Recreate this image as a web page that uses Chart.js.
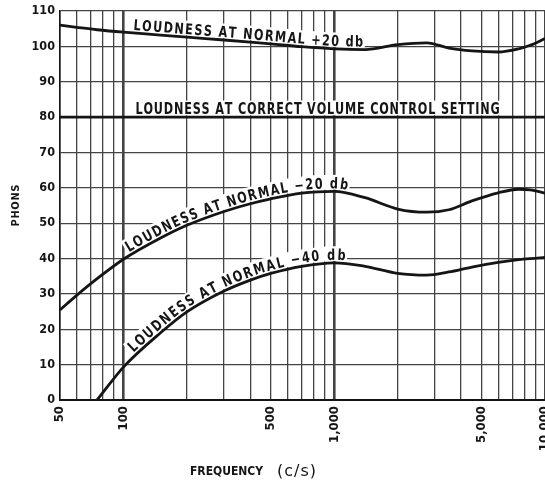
<!DOCTYPE html>
<html>
<head>
<meta charset="utf-8">
<script src="https://cdn.jsdelivr.net/npm/chart.js@4.4.0/dist/chart.umd.min.js"></script>
<style>
  html, body { margin: 0; padding: 0; background: #fff; overflow: hidden; }
  #wrap { width: 545px; height: 482px; }
</style>
</head>
<body>
<div id="wrap"><canvas id="chart" width="545" height="482"></canvas></div>
<script>
const freqs = [50, 60, 75, 100, 150, 200, 300, 400, 500, 700, 1000, 1400, 2000, 2750, 3500, 4500, 6000, 7500, 8500, 10000];
// loudness in phons
const plus20 = [106, 105.4, 104.7, 104, 103.2, 102.6, 101.8, 101.2, 100.7, 99.9, 99.3, 99.1, 100.5, 101, 99.5, 98.7, 98.4, 99.3, 100.3, 102.2];
const minus20 = [25.5, 29.6, 34.3, 39.8, 45.8, 49.4, 53.3, 55.5, 56.9, 58.5, 59, 57.2, 54, 53.1, 53.8, 56.3, 58.6, 59.6, 59.4, 58.5];
const minus40 = [null, null, 0, 9.3, 19, 24.9, 30.8, 33.9, 35.8, 37.8, 38.8, 37.8, 35.8, 35.3, 36.2, 37.6, 38.9, 39.7, 40, 40.3];
const correctFreqs = [50, 10000];
const correctLevel = [80, 80];

// grid lines and labelled ticks
const gridFreqs = [50, 60, 70, 80, 90, 100, 200, 300, 400, 500, 600, 700, 800, 900, 1000,
  2000, 3000, 4000, 5000, 6000, 7000, 8000, 9000, 10000];
const labelFreqs = [50, 100, 500, 1000, 5000, 10000];
const boldFreqs = [100, 1000];

// text written along each curve (from / to in c/s)
const curveLabels = [
  { series: 0, text: "LOUDNESS AT NORMAL +20 db", from: 111, to: 1370 },
  { series: 1, text: "LOUDNESS AT CORRECT VOLUME CONTROL SETTING", from: 114, to: 6100 },
  { series: 2, text: "LOUDNESS AT NORMAL \u221220 db", from: 108, to: 1150 },
  { series: 3, text: "LOUDNESS AT NORMAL \u221240 db", from: 114, to: 1125 },
];

const INK = "#151515";
const GRID = "#444";
const FAMILY = '"DejaVu Sans Condensed", "DejaVu Sans", sans-serif';
const LABEL_FONT = "bold 12.5px " + FAMILY;

function toPoints(xs, ys) {
  return xs.map((x, i) => ({ x: x, y: ys[i] }));
}

// sample the drawn bezier curve of a dataset into a polyline
function samplePath(elements) {
  const pts = elements.filter((p) => !p.skip);
  const out = [];
  for (let i = 0; i < pts.length - 1; i++) {
    const a = pts[i], b = pts[i + 1];
    const c1x = a.cp2x ?? a.x, c1y = a.cp2y ?? a.y;
    const c2x = b.cp1x ?? b.x, c2y = b.cp1y ?? b.y;
    for (let k = 0; k < 30; k++) {
      const t = k / 30, u = 1 - t;
      out.push({
        x: u * u * u * a.x + 3 * u * u * t * c1x + 3 * u * t * t * c2x + t * t * t * b.x,
        y: u * u * u * a.y + 3 * u * u * t * c1y + 3 * u * t * t * c2y + t * t * t * b.y,
      });
    }
  }
  const last = pts[pts.length - 1];
  out.push({ x: last.x, y: last.y });
  let s = 0;
  out.forEach((p, i) => {
    if (i > 0) s += Math.hypot(p.x - out[i - 1].x, p.y - out[i - 1].y);
    p.s = s;
  });
  return out;
}

function arcAtX(path, px) {
  for (let i = 1; i < path.length; i++) {
    if (path[i].x >= px) {
      const a = path[i - 1], b = path[i];
      const t = (px - a.x) / ((b.x - a.x) || 1);
      return a.s + t * (b.s - a.s);
    }
  }
  return path[path.length - 1].s;
}

function pointAtArc(path, s) {
  let i = 1;
  while (i < path.length - 1 && path[i].s < s) i++;
  const a = path[i - 1], b = path[i];
  const t = (s - a.s) / ((b.s - a.s) || 1);
  // smoother angle from a wider window
  const lo = path[Math.max(0, i - 8)], hi = path[Math.min(path.length - 1, i + 7)];
  return {
    x: a.x + t * (b.x - a.x),
    y: a.y + t * (b.y - a.y),
    a: Math.atan2(hi.y - lo.y, hi.x - lo.x),
  };
}

// draw text stretched with letter spacing so it fills `width`
function spacedText(ctx, text, x, y, width) {
  ctx.letterSpacing = "0px";
  const w = ctx.measureText(text).width;
  const ls = (width - w) / (text.length - 1);
  ctx.letterSpacing = ls + "px";
  ctx.textAlign = "left";
  ctx.fillText(text, x, y);
  ctx.letterSpacing = "0px";
}

const curveText = {
  id: "curveText",
  beforeDatasetsDraw(chart) {
    const ctx = chart.ctx;
    const xScale = chart.scales.x;
    const off = 3;
    const sy = 1.2;
    const capH = 9.2;
    ctx.save();
    ctx.font = LABEL_FONT;
    ctx.textAlign = "center";
    ctx.textBaseline = "alphabetic";
    curveLabels.forEach((lab) => {
      const meta = chart.getDatasetMeta(lab.series);
      if (meta.dataset && meta.dataset.updateControlPoints) {
        meta.dataset.updateControlPoints(chart.chartArea, "x");
      }
      const path = samplePath(meta.data);
      const chars = [...lab.text];
      const widths = chars.map((ch) => ctx.measureText(ch).width);
      const total = widths.reduce((a, b) => a + b, 0);
      const s0 = arcAtX(path, xScale.getPixelForValue(lab.from));
      const s1 = arcAtX(path, xScale.getPixelForValue(lab.to));
      const gap = (s1 - s0 - total) / (chars.length - 1);
      const placed = [];
      let s = s0;
      chars.forEach((ch, i) => {
        const p = pointAtArc(path, s + widths[i] / 2);
        placed.push({ ch, w: widths[i], p });
        s += widths[i] + gap;
      });
      // white ground first, then the letters
      ctx.fillStyle = "#fff";
      placed.forEach(({ w, p }) => {
        ctx.save();
        ctx.translate(p.x + Math.sin(p.a) * off, p.y - Math.cos(p.a) * off);
        ctx.rotate(p.a);
        ctx.scale(1, sy);
        ctx.fillRect(-w / 2 - gap / 2 - 1, -capH - 2, w + gap + 2, capH + 3);
        ctx.restore();
      });
      ctx.fillStyle = INK;
      placed.forEach(({ ch, p }) => {
        ctx.save();
        ctx.translate(p.x + Math.sin(p.a) * off, p.y - Math.cos(p.a) * off);
        ctx.rotate(p.a);
        ctx.scale(1, sy);
        ctx.fillText(ch, 0, 0);
        ctx.restore();
      });
    });
    ctx.restore();
  },
};

// axis titles in the hand-lettered spaced style
const axisTitles = {
  id: "axisTitles",
  afterDraw(chart) {
    const ctx = chart.ctx;
    const area = chart.chartArea;
    ctx.save();
    ctx.fillStyle = INK;
    ctx.textBaseline = "alphabetic";
    ctx.font = "bold 12px " + FAMILY;
    spacedText(ctx, "FREQUENCY", 190, 475, 73);
    ctx.font = '16px "DejaVu Sans", sans-serif';
    ctx.letterSpacing = "1px";
    ctx.fillText("(c/s)", 277, 476);
    ctx.letterSpacing = "0px";
    // PHONS, reading upwards
    ctx.translate(19, (area.top + area.bottom) / 2);
    ctx.rotate(-Math.PI / 2);
    ctx.font = "bold 11px " + FAMILY;
    spacedText(ctx, "PHONS", -21, 0, 42);
    ctx.restore();
  },
};

const lineStyle = {
  borderColor: INK,
  borderWidth: 2.8,
  pointRadius: 0,
  fill: false,
  cubicInterpolationMode: "monotone",
};

new Chart(document.getElementById("chart"), {
  type: "line",
  data: {
    datasets: [
      { label: "+20 db", data: toPoints(freqs, plus20), ...lineStyle },
      { label: "correct", data: toPoints(correctFreqs, correctLevel), ...lineStyle },
      { label: "-20 db", data: toPoints(freqs, minus20), ...lineStyle },
      { label: "-40 db", data: toPoints(freqs, minus40), ...lineStyle },
    ],
  },
  options: {
    responsive: false,
    animation: false,
    devicePixelRatio: 1,
    layout: { padding: { top: 11, left: 0, right: 0, bottom: 0 } },
    plugins: {
      legend: { display: false },
      tooltip: { enabled: false },
    },
    scales: {
      x: {
        type: "logarithmic",
        min: 50,
        max: 10000,
        afterBuildTicks: (axis) => {
          axis.ticks = gridFreqs.map((v) => ({ value: v }));
        },
        afterFit: (axis) => {
          axis.height = 82;
          axis.paddingLeft = 0;
          axis.paddingRight = 0;
        },
        grid: {
          color: GRID,
          drawTicks: false,
          lineWidth: (c) => (c.tick && boldFreqs.includes(c.tick.value) ? 2.6 : 1.3),
        },
        border: { display: true, color: INK, width: 2 },
        ticks: {
          autoSkip: false,
          minRotation: 90,
          maxRotation: 90,
          padding: 6,
          color: INK,
          font: { family: FAMILY, size: 13, weight: "bold" },
          callback: (v) => (labelFreqs.includes(v) ? v.toLocaleString("en-US") : ""),
        },
      },
      y: {
        type: "linear",
        min: 0,
        max: 110,
        afterFit: (axis) => {
          axis.width = 60;
          axis.paddingTop = 0;
          axis.paddingBottom = 0;
        },
        grid: {
          color: GRID,
          drawTicks: false,
          lineWidth: (c) => (c.tick && c.tick.value === 0 ? 2 : 1.3),
        },
        border: { display: true, color: INK, width: 1.6 },
        ticks: {
          stepSize: 10,
          padding: 5,
          color: INK,
          font: { family: FAMILY, size: 12.5, weight: "bold" },
        },
      },
    },
  },
  plugins: [curveText, axisTitles],
});
</script>
</body>
</html>
